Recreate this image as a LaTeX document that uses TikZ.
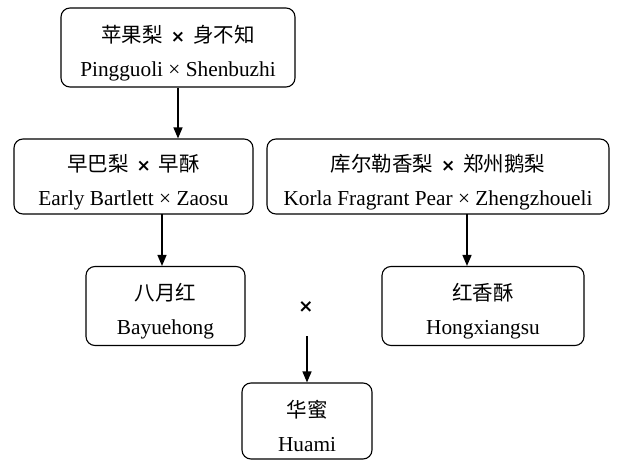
\documentclass[tikz,border=0pt]{standalone}
\usepackage{fontspec}
\setmainfont{Liberation Serif}
\newfontfamily\cjk{Noto Sans CJK SC}
\newfontfamily\xsym{DejaVu Sans}
\newcommand{\cx}{\hspace{8pt}{\xsym\bfseries\fontsize{17}{17}\selectfont ×}\hspace{8pt}}
\newcommand{\tstrut}{\rule{0pt}{28pt}}
\usetikzlibrary{arrows.meta}
\begin{document}
\begin{tikzpicture}[x=1pt,y=-1pt,
  box/.style={draw,line width=1.1pt,rounded corners=9pt,inner sep=0pt,align=center,font=\fontsize{21.3}{34}\selectfont},
  arr/.style={line width=1.4pt,-{Triangle[length=11pt,width=9pt]}}]
\useasboundingbox (0,0) rectangle (617,462);
\node[box,minimum width=234pt,minimum height=79pt] (a) at (178,47.5) {\tstrut{\cjk\fontsize{20.5}{34}\selectfont 苹果梨\cx 身不知}\\Pingguoli × Shenbuzhi};
\node[box,minimum width=239pt,minimum height=75pt] (b) at (133.5,176.5) {\tstrut{\cjk\fontsize{20.5}{34}\selectfont 早巴梨\cx 早酥}\\Early Bartlett × Zaosu};
\node[box,minimum width=342pt,minimum height=75pt] (c) at (438,176.5) {\tstrut{\cjk\fontsize{20.5}{34}\selectfont 库尔勒香梨\cx 郑州鹅梨}\\Korla Fragrant Pear × Zhengzhoueli};
\node[box,minimum width=159pt,minimum height=79pt] (d) at (165.5,306) {\tstrut{\cjk\fontsize{20.5}{34}\selectfont 八月红}\\Bayuehong};
\node[box,minimum width=202pt,minimum height=79pt] (e) at (483,306) {\tstrut{\cjk\fontsize{20.5}{34}\selectfont 红香酥}\\Hongxiangsu};
\node[box,minimum width=130pt,minimum height=76pt] (f) at (307,421) {\tstrut{\cjk\fontsize{20.5}{34}\selectfont 华蜜}\\Huami};
\node[font=\xsym\bfseries\fontsize{18}{18}\selectfont,inner sep=1pt] (x) at (306,307) {×};
\draw[arr] (a.south) -- (a.south|-b.north);
\draw[arr] (162,214) coordinate (bs) -- (bs|-d.north);
\draw[arr] (467,214) coordinate (cs) -- (cs|-e.north);
\draw[arr] (307,336) coordinate (xs) -- (f.north);
\end{tikzpicture}
\end{document}
